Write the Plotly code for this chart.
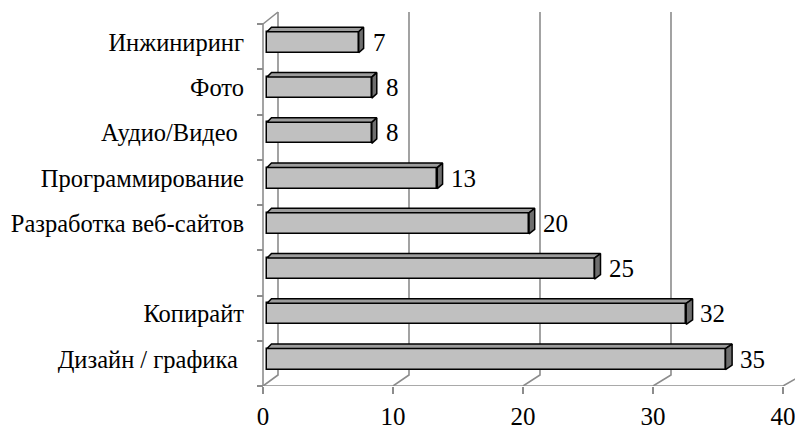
import plotly.graph_objects as go

# ---------------- data ----------------
categories = ["Дизайн / графика\u00a0", "Копирайт", "", "Разработка веб-сайтов",
              "Программирование", "Аудио/Видео\u00a0", "Фото", "Инжиниринг"]
values = [35, 32, 25, 20, 13, 8, 8, 7]
x_ticks = [0, 10, 20, 30, 40]
x_tick_labels = ["0", "10", "20", "30", "40"]

# ---------------- geometry / style ----------------
W, H = 795, 427
ML, MR, MT, MB = 250, 0, 0, 41
PW, PH = W - ML - MR, H - MT - MB
XPX = 13.0          # px per unit on the front floor
YPX = 45.25         # px per category slot
X0PX = 13           # px from plot left edge to value 0
xr = [-X0PX / XPX, (PW - X0PX) / XPX]
yr = [-0.5, -0.5 + PH / YPX]


def ux(px):
    return px / XPX


def uy(px):
    return px / YPX


GRID = "#8c8c8c"
FONT = "Liberation Serif"
n = len(categories)

# 3-D wall (depth offset of back plane)
BACK_DX, BACK_DY = 15, 11
BACK_SCALE = 13.1 / 13.0
y_floor = -0.5
y_back_floor = y_floor + uy(BACK_DY)
y_top = yr[1] - uy(12)
y_front_top = n - 0.5

shapes = []
line_style = dict(color=GRID, width=1.6)
for v in x_ticks:
    bx = v * BACK_SCALE + ux(BACK_DX)
    shapes.append(dict(type="path", xref="x", yref="y", layer="below",
                       path=f"M {v},{y_floor} L {bx},{y_back_floor} L {bx},{y_top}",
                       line=line_style))
bx0 = ux(BACK_DX)
shapes.append(dict(type="path", xref="x", yref="y", layer="below",
                   path=f"M 0,{y_front_top} L {bx0},{y_top}", line=line_style))
shapes.append(dict(type="line", xref="x", yref="y", layer="below",
                   x0=0, x1=0, y0=y_floor, y1=y_front_top, line=line_style))
shapes.append(dict(type="line", xref="x", yref="y", layer="below",
                   x0=0, x1=x_ticks[-1], y0=y_floor, y1=y_floor, line=line_style))

# bars
BAR_X0 = ux(4)
BAR_SCALE = 13.1 / 13.0
BAR_DY = uy(4.3)
BAR_HALF = uy(10.5)
TOP_D = uy(4.5)

ys = [i + BAR_DY for i in range(n)]
lens = [v * BAR_SCALE for v in values]

fig = go.Figure()
fig.add_trace(go.Bar(
    orientation="h", y=ys, x=lens, base=BAR_X0, width=2 * BAR_HALF,
    marker=dict(color="#c0c0c0", line=dict(color="black", width=1.5)),
    hoverinfo="skip", showlegend=False))

top_x, top_y, side_x, side_y = [], [], [], []
for v, yc, ln in zip(values, ys, lens):
    x0 = BAR_X0
    x1 = BAR_X0 + ln
    yt = yc + BAR_HALF
    yb = yc - BAR_HALF
    dxl = ux(4.5)
    dxr = ux(4.5 + 0.06 * v)
    top_x += [x0, x1, x1 + dxr, x0 + dxl, x0, None]
    top_y += [yt, yt, yt + TOP_D, yt + TOP_D, yt, None]
    side_x += [x1, x1 + dxr, x1 + dxr, x1, x1, None]
    side_y += [yt, yt + TOP_D, yb + TOP_D, yb, yt, None]

fig.add_trace(go.Scatter(x=top_x, y=top_y, mode="lines", fill="toself",
                         fillcolor="#9c9c9c", line=dict(color="black", width=1.5),
                         hoverinfo="skip", showlegend=False))
fig.add_trace(go.Scatter(x=side_x, y=side_y, mode="lines", fill="toself",
                         fillcolor="#6e6e6e", line=dict(color="black", width=1.5),
                         hoverinfo="skip", showlegend=False))

annotations = []
for v, yc, ln in zip(values, ys, lens):
    annotations.append(dict(x=BAR_X0 + ln + ux(12), y=yc, xref="x", yref="y",
                            text=str(v), showarrow=False, xanchor="left",
                            yanchor="middle", font=dict(family=FONT, size=25, color="black")))

fig.update_layout(
    width=W, height=H,
    margin=dict(l=ML, r=MR, t=MT, b=MB, pad=0),
    paper_bgcolor="white", plot_bgcolor="white",
    shapes=shapes, annotations=annotations,
    showlegend=False, bargap=0,
    xaxis=dict(range=xr, tickvals=x_ticks, ticktext=x_tick_labels,
               ticks="outside", ticklen=7, tickwidth=1.5, tickcolor=GRID,
               ticklabelstandoff=1, ticklabeloverflow="allow",
               tickfont=dict(family=FONT, size=25, color="black"),
               showgrid=False, zeroline=False, showline=False, automargin=False,
               fixedrange=True),
    yaxis=dict(range=yr, tickvals=ys, ticktext=categories, ticks="",
               anchor="free", position=X0PX / PW, side="left",
               ticklabelstandoff=19,
               tickfont=dict(family=FONT, size=24.5, color="black"),
               minor=dict(tickvals=[k - 0.5 for k in range(n + 1)], ticks="outside",
                          ticklen=6, tickwidth=1.5, tickcolor=GRID),
               showgrid=False, zeroline=False, showline=False, automargin=False,
               fixedrange=True),
)

fig.write_html("out.html", post_script="document.body.style.margin='0';",
               config={"displayModeBar": False})
